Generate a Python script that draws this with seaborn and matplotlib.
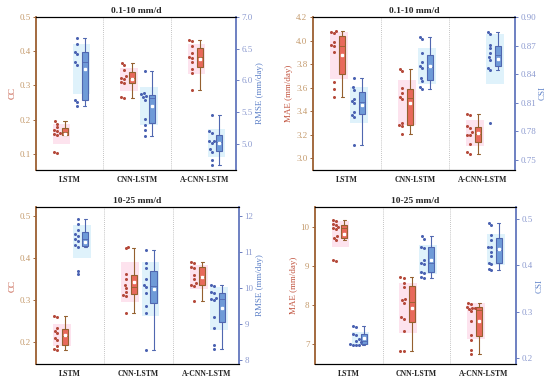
import numpy as np
import pandas as pd
import matplotlib
matplotlib.use("Agg")
import matplotlib.pyplot as plt
import seaborn as sns

sns.set_style("white")
plt.rcParams["font.family"] = ["Liberation Serif", "DejaVu Serif"]

models = ["LSTM", "CNN-LSTM", "A-CNN-LSTM"]

# 0.1-10 mm/d
cc_low = [
    [0.195, 0.188, 0.178, 0.170, 0.168, 0.160, 0.158, 0.155, 0.107, 0.104],
    [0.366, 0.360, 0.345, 0.327, 0.322, 0.320, 0.310, 0.306, 0.265, 0.262],
    [0.434, 0.430, 0.415, 0.395, 0.384, 0.380, 0.369, 0.348, 0.335, 0.288],
]
rmse_low = [
    [6.67, 6.58, 6.45, 6.41, 6.29, 6.25, 5.70, 5.66, 5.60],
    [6.15, 5.80, 5.78, 5.76, 5.74, 5.70, 5.40, 5.30, 5.22, 5.12],
    [5.46, 5.20, 5.18, 5.05, 5.04, 5.02, 4.92, 4.88, 4.75, 4.67],
]
mae_low = [
    [4.08, 4.07, 4.06, 3.99, 3.96, 3.95, 3.90, 3.65, 3.59, 3.52],
    [3.76, 3.74, 3.60, 3.55, 3.52, 3.50, 3.30, 3.28, 3.27, 3.21],
    [3.38, 3.37, 3.27, 3.26, 3.22, 3.20, 3.20, 3.12, 3.05, 3.04],
]
csi_low = [
    [0.836, 0.826, 0.823, 0.814, 0.812, 0.810, 0.800, 0.797, 0.795, 0.765],
    [0.879, 0.877, 0.862, 0.853, 0.848, 0.846, 0.836, 0.833, 0.826, 0.824],
    [0.884, 0.882, 0.871, 0.867, 0.862, 0.858, 0.855, 0.846, 0.844, 0.788],
]

# 10-25 mm/d
cc_mid = [
    [0.262, 0.259, 0.233, 0.227, 0.221, 0.210, 0.205, 0.190, 0.183, 0.182],
    [0.428, 0.425, 0.362, 0.350, 0.336, 0.329, 0.320, 0.313, 0.310, 0.270],
    [0.392, 0.388, 0.380, 0.376, 0.360, 0.350, 0.340, 0.336, 0.335, 0.297],
]
rmse_mid = [
    [11.92, 11.78, 11.60, 11.50, 11.45, 11.35, 11.30, 11.18, 11.15, 10.48, 10.38],
    [11.05, 10.68, 10.55, 10.26, 10.08, 10.02, 9.86, 9.50, 9.30, 8.28],
    [10.08, 10.06, 9.88, 9.86, 9.72, 9.68, 9.65, 9.20, 8.88, 8.40, 8.30],
]
mae_mid = [
    [10.18, 10.15, 10.06, 10.04, 10.00, 9.97, 9.95, 9.75, 9.72, 9.66, 9.15, 9.12],
    [8.72, 8.70, 8.56, 8.46, 8.15, 8.12, 8.05, 7.70, 7.66, 7.34, 6.84, 6.82],
    [8.06, 8.02, 7.95, 7.94, 7.92, 7.90, 7.84, 7.60, 7.25, 7.10, 6.85, 6.76],
]
csi_mid = [
    [0.268, 0.266, 0.252, 0.250, 0.240, 0.236, 0.234, 0.230, 0.229, 0.229, 0.228],
    [0.462, 0.457, 0.440, 0.437, 0.410, 0.404, 0.402, 0.386, 0.383, 0.375, 0.373],
    [0.490, 0.487, 0.465, 0.455, 0.440, 0.438, 0.428, 0.420, 0.405, 0.402, 0.392, 0.389],
]

RED_FACE, RED_EDGE, RED_DOT, RED_SHADE = "#e8695b", "#94602f", "#b5493a", "#fde3ee"
BLUE_FACE, BLUE_EDGE, BLUE_DOT, BLUE_SHADE = "#6f9bd8", "#5067b0", "#4a62b2", "#dff2fb"
L_SPINE, L_TICK, L_LAB = "#a0663a", "#c49a6c", "#c2543f"
R_SPINE, R_TICK, R_LAB = "#6a7cc0", "#8d9bd0", "#5f82c8"


def long_df(groups, shift):
    rows = [(i + shift, v) for i, vals in enumerate(groups) for v in vals]
    return pd.DataFrame(rows, columns=["pos", "val"])


def half_box(ax, groups, box_shift, dot_shift, face, edge, dot, shade):
    df = long_df(groups, box_shift)
    # light band: mean +/- sd
    for i, vals in enumerate(groups):
        m, s = np.mean(vals), np.std(vals)
        ax.bar(i + (dot_shift + box_shift) / 2 + 0.01, 2 * s, bottom=m - s,
               width=0.26, color=shade, zorder=0, linewidth=0)
    sns.boxplot(data=df, x="pos", y="val", native_scale=True, width=0.09,
                showfliers=False, showmeans=True, ax=ax, linewidth=0.8,
                boxprops=dict(facecolor=face, edgecolor=edge),
                whiskerprops=dict(color=edge), capprops=dict(color=edge),
                medianprops=dict(color=edge, linewidth=0.6),
                meanprops=dict(marker="s", markerfacecolor="white",
                               markeredgecolor="white", markersize=1.8),
                zorder=2)
    sns.swarmplot(data=long_df(groups, dot_shift), x="pos", y="val",
                  native_scale=True, size=2.2, color=dot, ax=ax, zorder=3)


def panel(rect, title, lgroups, rgroups, llab, rlab, lylim, rylim, lticks, rticks, lfmt, rfmt):
    ax = fig.add_axes(rect)
    ax2 = ax.twinx()
    half_box(ax, lgroups, -0.07, -0.19, RED_FACE, RED_EDGE, RED_DOT, RED_SHADE)
    half_box(ax2, rgroups, 0.22, 0.11, BLUE_FACE, BLUE_EDGE, BLUE_DOT, BLUE_SHADE)
    for a in (ax, ax2):
        a.set_xlim(-0.5, 2.47)
        a.set_xlabel("")
        a.set_ylabel("")
    for sep in (0.5, 1.5):
        ax.axvline(sep, color="#b0b0b0", linestyle=(0, (1, 1.5)), linewidth=0.6, zorder=1)
    ax.set_ylim(*lylim)
    ax2.set_ylim(*rylim)
    ax.set_yticks(lticks)
    ax.set_yticklabels([lfmt.format(t) for t in lticks])
    ax2.set_yticks(rticks)
    ax2.set_yticklabels([rfmt.format(t) for t in rticks])
    ax.set_xticks(range(3))
    ax.set_xticklabels(models, fontsize=5.6, fontweight="bold")
    ax.tick_params(axis="x", length=2, width=0.6, pad=2)
    ax.tick_params(axis="y", colors=L_SPINE, labelcolor=L_TICK, labelsize=6.5,
                   length=2.5, width=0.7, pad=1.5, direction="out", left=True)
    ax2.tick_params(axis="y", colors=R_SPINE, labelcolor=R_TICK, labelsize=6.5,
                    length=2.5, width=0.7, pad=1.5, direction="out", right=True)
    ax.set_ylabel(llab, color=L_LAB, fontsize=6.5, labelpad=2)
    ax2.set_ylabel(rlab, color=R_LAB, fontsize=6.5, labelpad=2)
    ax.set_title(title, fontsize=6.8, fontweight="bold", pad=3)
    for a in (ax, ax2):
        for side in ("top", "bottom"):
            a.spines[side].set_color("black")
            a.spines[side].set_linewidth(0.8)
        a.spines["left"].set_color(L_SPINE)
        a.spines["right"].set_color(R_SPINE)
        a.spines["left"].set_linewidth(1.1)
        a.spines["right"].set_linewidth(1.1)
    return ax, ax2


fig = plt.figure(figsize=(5.5, 3.82), dpi=100)

panel([0.0655, 0.555, 0.364, 0.4005], "0.1-10 mm/d", cc_low, rmse_low, "CC", "RMSE (mm/day)",
      (0.053, 0.5), (4.59, 7.0), [0.1, 0.2, 0.3, 0.4, 0.5], [5.0, 5.5, 6.0, 6.5, 7.0],
      "{:.1f}", "{:.1f}")
panel([0.569, 0.555, 0.367, 0.4005], "0.1-10 mm/d", mae_low, csi_low, "MAE (mm/day)", "CSI",
      (2.9, 4.2), (0.739, 0.90), [3.0, 3.2, 3.4, 3.6, 3.8, 4.0, 4.2],
      [0.75, 0.78, 0.81, 0.84, 0.87, 0.90], "{:.1f}", "{:.2f}")
panel([0.0655, 0.047, 0.369, 0.411], "10-25 mm/d", cc_mid, rmse_mid, "CC", "RMSE (mm/day)",
      (0.148, 0.522), (7.88, 12.25), [0.2, 0.3, 0.4, 0.5], [8, 9, 10, 11, 12],
      "{:.1f}", "{:.0f}")
panel([0.5727, 0.047, 0.365, 0.411], "10-25 mm/d", mae_mid, csi_mid, "MAE (mm/day)", "CSI",
      (6.5, 10.5), (0.187, 0.525), [7, 8, 9, 10], [0.2, 0.3, 0.4, 0.5],
      "{:.0f}", "{:.1f}")

fig.savefig("out.png", dpi=100)
